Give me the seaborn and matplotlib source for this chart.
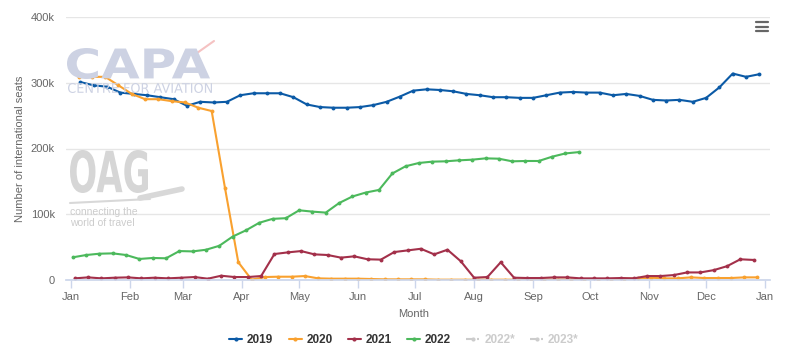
import pandas as pd
import matplotlib.pyplot as plt
import seaborn as sns
from matplotlib.lines import Line2D
from matplotlib.textpath import TextPath
from matplotlib.patches import PathPatch
from matplotlib.font_manager import FontProperties
from matplotlib.transforms import Affine2D

# --- Data (weekly international seats, thousands) ---
years = ['2019', '2020', '2021', '2022']
first_week = {'2019': '2019-01-06', '2020': '2020-01-05',
              '2021': '2021-01-03', '2022': '2022-01-02'}

seats_2019 = [301, 296, 294, 285, 283, 281, 278, 275, 265, 271,
              270, 271, 281, 284, 284, 284, 278, 267, 263, 262,
              262, 263, 266, 271, 279, 288, 290, 289, 287, 283,
              281, 278, 278, 277, 277, 281, 285, 286, 285, 285,
              281, 283, 280, 274, 273, 274, 271, 277, 293, 314,
              309, 313]
seats_2020 = [309, 309, 309, 296, 283, 275, 275, 272, 270, 262,
              257, 140, 27, 0.5, 4.5, 5, 5, 6, 2.5, 2,
              2, 2, 1.5, 1, 1, 1, 1, 0.5, 0.5, 0.5,
              0.5, 0.5, 0.5, 0.5, 0.5, 0.5, 0.5, 0.5, 0.5, 0.5,
              0.5, 2, 2.5, 3.5, 2.5, 2.5, 4, 3, 3, 3,
              4, 4]
seats_2021 = [2.5, 4, 2.5, 3.5, 4, 2.5, 3.5, 2.5, 3.5, 4.5,
              2, 6.5, 4.5, 4.5, 6, 39.5, 42, 44, 39, 38,
              34, 36, 31.5, 31, 42.5, 45, 47.5, 39, 46, 28.5,
              3.5, 4.5, 27, 3.5, 3, 3, 4, 4, 2.5, 2.5,
              2.5, 3, 2.5, 6, 6, 7.5, 11.5, 11.5, 15, 21,
              31.5, 30.5]
seats_2022 = [34.5, 38, 40, 40.5, 38, 32, 33.5, 33, 44, 43.5,
              46, 52, 66, 75.5, 87, 93, 94, 106, 104, 102.5,
              117, 127, 133, 137, 162, 173, 178, 180, 180.5, 182,
              183, 185, 184.5, 180.5, 181, 181, 187.5, 192.5, 194.5]

month_labels = ['Jan', 'Feb', 'Mar', 'Apr', 'May', 'Jun', 'Jul',
                'Aug', 'Sep', 'Oct', 'Nov', 'Dec', 'Jan']
month_days = [0, 31, 59, 90, 120, 151, 181, 212, 243, 273, 304, 334, 365]
y_ticks = [0, 100, 200, 300, 400]
y_labels = ['0', '100k', '200k', '300k', '400k']

colors = {'2019': '#0b5aa6', '2020': '#f9a12f', '2021': '#a3304a', '2022': '#4cb95c'}
ghost = '#cccccc'

# --- Build long table ---
series = {'2019': seats_2019, '2020': seats_2020, '2021': seats_2021, '2022': seats_2022}
frames = []
for yr in years:
    dates = pd.date_range(first_week[yr], periods=len(series[yr]), freq='7D')
    day = (dates - pd.Timestamp(f'{yr}-01-01')).days
    frames.append(pd.DataFrame({'day': day, 'seats': series[yr], 'year': yr}))
df = pd.concat(frames, ignore_index=True)

sns.set_theme(style='white')
plt.rcParams['font.family'] = ['Liberation Sans', 'DejaVu Sans']

W, H = 786, 363
fig = plt.figure(figsize=(W / 100, H / 100), dpi=100)
ax = fig.add_axes([66 / W, 1 - 280 / H, (770 - 66) / W, (280 - 17) / H])


def stamp(text, x0, y_top, w, h, color, weight='normal'):
    # watermark text stretched into a pixel box
    tp = TextPath((0, 0), text, size=1, prop=FontProperties(family='DejaVu Sans', weight=weight))
    bb = tp.get_extents()
    tr = (Affine2D().translate(-bb.x0, -bb.y0)
          .scale(w / W / bb.width, h / H / bb.height)
          .translate(x0 / W, 1 - (y_top + h) / H)) + fig.transFigure
    fig.patches.append(PathPatch(tp, transform=tr, color=color, lw=0, zorder=0))


# watermarks
stamp('CAPA', 67, 48, 143, 31, '#cdd2e3', 'bold')
stamp('CENTRE FOR AVIATION', 68, 83, 144, 10, '#cdd2e3')
fig.add_artist(Line2D([197 / W, 214 / W], [1 - 53 / H, 1 - 41 / H], color='#f5c2c2', lw=1.5, zorder=0))
stamp('OAG', 70, 150, 78, 43, '#d6d6d6', 'bold')
fig.add_artist(Line2D([70 / W, 150 / W], [1 - 203 / H, 1 - 199 / H], color='#d8d8d8', lw=1.5, zorder=0))
fig.add_artist(Line2D([140 / W, 182 / W], [1 - 198 / H, 1 - 189 / H], color='#d8d8d8', lw=4, zorder=0))
fig.text(70 / W, 1 - 212 / H, 'connecting the', fontsize=7.5, color='#cccccc', va='center', zorder=0)
fig.text(70 / W, 1 - 223 / H, 'world of travel', fontsize=7.5, color='#cccccc', va='center', zorder=0)

ax.patch.set_alpha(0)
sns.lineplot(data=df, x='day', y='seats', hue='year', palette=colors,
             marker='o', markersize=2.8, markeredgewidth=0, linewidth=1.5,
             estimator=None, sort=False, legend=False, ax=ax)

ax.set_xlim(-2.6, 367.6)
ax.set_ylim(0, 400)
ax.set_xticks(month_days)
ax.set_xticklabels(month_labels)
ax.set_yticks(y_ticks)
ax.set_yticklabels(y_labels)
ax.grid(axis='y', color='#e6e6e6', linewidth=1)
ax.grid(axis='x', visible=False)
ax.set_axisbelow(True)
for s in ['top', 'right', 'left']:
    ax.spines[s].set_visible(False)
ax.spines['bottom'].set_color('#ccd6eb')
ax.tick_params(axis='x', bottom=True, length=6, width=1, color='#ccd6eb',
               labelcolor='#666666', labelsize=8, pad=3)
ax.tick_params(axis='y', length=0, labelcolor='#666666', labelsize=8, pad=8)
ax.set_xlabel('Month', color='#666666', fontsize=8)
ax.set_ylabel('Number of international seats', color='#666666', fontsize=8)
ax.xaxis.set_label_coords(0.494, -0.11)
ax.yaxis.set_label_coords(-0.058, 0.5)

# menu icon
for yy in [22, 26.5, 31]:
    fig.add_artist(Line2D([756 / W, 768 / W], [1 - yy / H] * 2, color='#666666', lw=1.6))

# legend
handles = [Line2D([], [], color=colors[y], marker='o', markersize=3, markeredgewidth=0, lw=1.5)
           for y in years]
handles += [Line2D([], [], color=ghost, marker='o', markersize=3, markeredgewidth=0,
                   lw=1.5, linestyle='--') for _ in range(2)]
labels = years + ['2022*', '2023*']
leg = fig.legend(handles, labels, loc='center', bbox_to_anchor=(0.514, 0.063), ncol=6,
                 frameon=False, handlelength=1.1, handletextpad=0.4, columnspacing=1.3,
                 prop={'size': 8.5, 'weight': 'bold'})
for t, lab in zip(leg.get_texts(), labels):
    t.set_color(ghost if '*' in lab else '#333333')

fig.savefig('out.png', dpi=100)
